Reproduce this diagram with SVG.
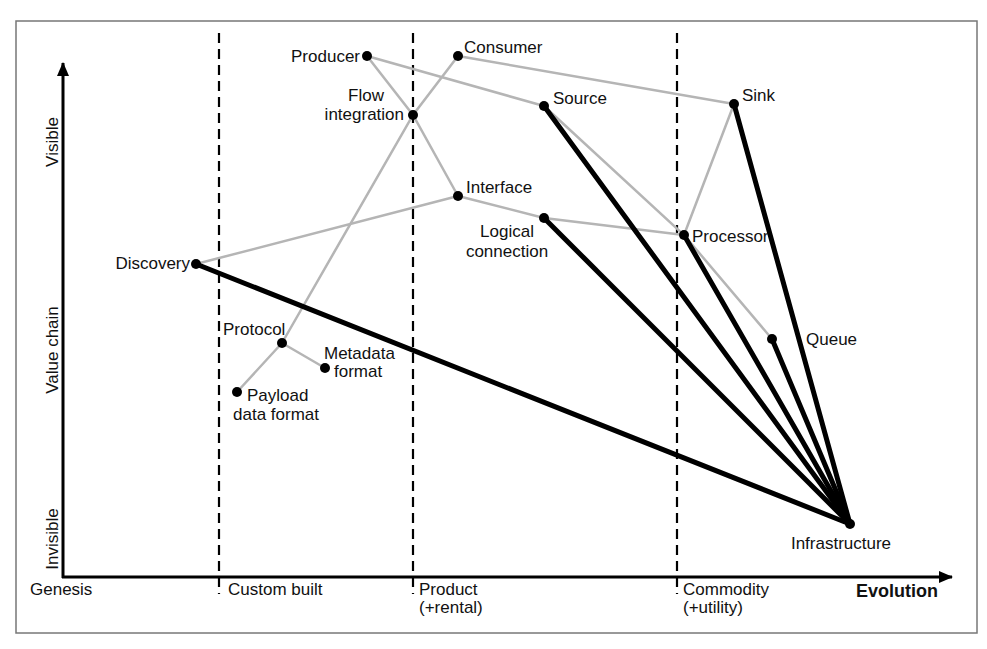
<svg xmlns="http://www.w3.org/2000/svg" width="987" height="649" viewBox="0 0 987 649">
<style>
text{font-family:"Liberation Sans",Arial,sans-serif;font-size:17px;fill:#111}
.b{font-weight:bold;font-size:18px}
.e{text-anchor:end}
.m{text-anchor:middle}
.g{stroke:#b5b5b5;stroke-width:2.5;fill:none;stroke-linecap:round}
.k{stroke:#000;stroke-width:5;fill:none;stroke-linecap:round}
.d{stroke:#000;stroke-width:2.2;stroke-dasharray:10 6}
.n{fill:#000}
</style>
<defs>
<marker id="ah" viewBox="0 0 14 12" refX="13" refY="6" markerWidth="14" markerHeight="12" markerUnits="userSpaceOnUse" orient="auto">
<path d="M0,0L14,6L0,12Z" fill="#000"/>
</marker>
</defs>
<rect width="987" height="649" fill="#fff"/>
<rect x="16" y="21" width="961" height="612" fill="none" stroke="#777" stroke-width="1.5"/>
<g id="grid">
<line class="d" x1="219" y1="33" x2="219" y2="594"/>
<line class="d" x1="413" y1="33" x2="413" y2="594"/>
<line class="d" x1="677" y1="33" x2="677" y2="594"/>
</g>
<g id="axes">
<line x1="63" y1="578" x2="63" y2="63" stroke="#000" stroke-width="3" marker-end="url(#ah)"/>
<line x1="62" y1="577" x2="952" y2="577" stroke="#000" stroke-width="3" marker-end="url(#ah)"/>
<text transform="translate(58,142) rotate(-90)" class="m">Visible</text>
<text transform="translate(58,350) rotate(-90)" class="m">Value chain</text>
<text transform="translate(58,539) rotate(-90)" class="m">Invisible</text>
<text x="30" y="595">Genesis</text>
<text x="228" y="595">Custom built</text>
<text x="419" y="595">Product</text>
<text x="419" y="613">(+rental)</text>
<text x="683" y="595">Commodity</text>
<text x="683" y="613">(+utility)</text>
<text x="938" y="597" class="b e">Evolution</text>
</g>
<g id="connectors">
<polyline class="g" points="367,56 413,115 458,196"/>
<line class="g" x1="367" y1="56" x2="544" y2="106"/>
<line class="g" x1="458" y1="56" x2="734" y2="104"/>
<polyline class="g" points="458,56 413,115 282,343"/>
<line class="g" x1="196" y1="264" x2="458" y2="196"/>
<polyline class="g" points="458,196 544,218 684,235"/>
<polyline class="g" points="544,106 684,235 772,339"/>
<line class="g" x1="734" y1="104" x2="684" y2="235"/>
<line class="g" x1="282" y1="343" x2="237" y2="392"/>
<line class="g" x1="282" y1="343" x2="325" y2="368"/>
<line class="k" x1="196" y1="264" x2="850" y2="524"/>
<line class="k" x1="544" y1="106" x2="850" y2="524"/>
<line class="k" x1="544" y1="218" x2="850" y2="524"/>
<line class="k" x1="684" y1="235" x2="850" y2="524"/>
<line class="k" x1="772" y1="339" x2="850" y2="524"/>
<line class="k" x1="734" y1="104" x2="850" y2="524"/>
</g>
<g id="producer"><circle class="n" cx="367" cy="56" r="5"/><text x="360" y="62" class="e">Producer</text></g>
<g id="consumer"><circle class="n" cx="458" cy="56" r="5"/><text x="464" y="53">Consumer</text></g>
<g id="flow-integration"><circle class="n" cx="413" cy="115" r="5"/><text x="366" y="101" class="m">Flow</text><text x="404" y="120" class="e">integration</text></g>
<g id="source"><circle class="n" cx="544" cy="106" r="5"/><text x="553" y="104">Source</text></g>
<g id="sink"><circle class="n" cx="734" cy="104" r="5"/><text x="742" y="101">Sink</text></g>
<g id="interface"><circle class="n" cx="458" cy="196" r="5"/><text x="466" y="193">Interface</text></g>
<g id="logical-connection"><circle class="n" cx="544" cy="218" r="5"/><text x="507" y="237" class="m">Logical</text><text x="507" y="257" class="m">connection</text></g>
<g id="processor"><circle class="n" cx="684" cy="235" r="5"/><text x="692" y="242">Processor</text></g>
<g id="queue"><circle class="n" cx="772" cy="339" r="5"/><text x="806" y="345">Queue</text></g>
<g id="discovery"><circle class="n" cx="196" cy="264" r="5"/><text x="190" y="269" class="e">Discovery</text></g>
<g id="protocol"><circle class="n" cx="282" cy="343" r="5"/><text x="223" y="335">Protocol</text></g>
<g id="metadata-format"><circle class="n" cx="325" cy="368" r="5"/><text x="324" y="359">Metadata</text><text x="334" y="377">format</text></g>
<g id="payload-data-format"><circle class="n" cx="237" cy="392" r="5"/><text x="247" y="401">Payload</text><text x="233" y="420">data format</text></g>
<g id="infrastructure"><circle class="n" cx="850" cy="524" r="5"/><text x="841" y="549" class="m">Infrastructure</text></g>
</svg>
